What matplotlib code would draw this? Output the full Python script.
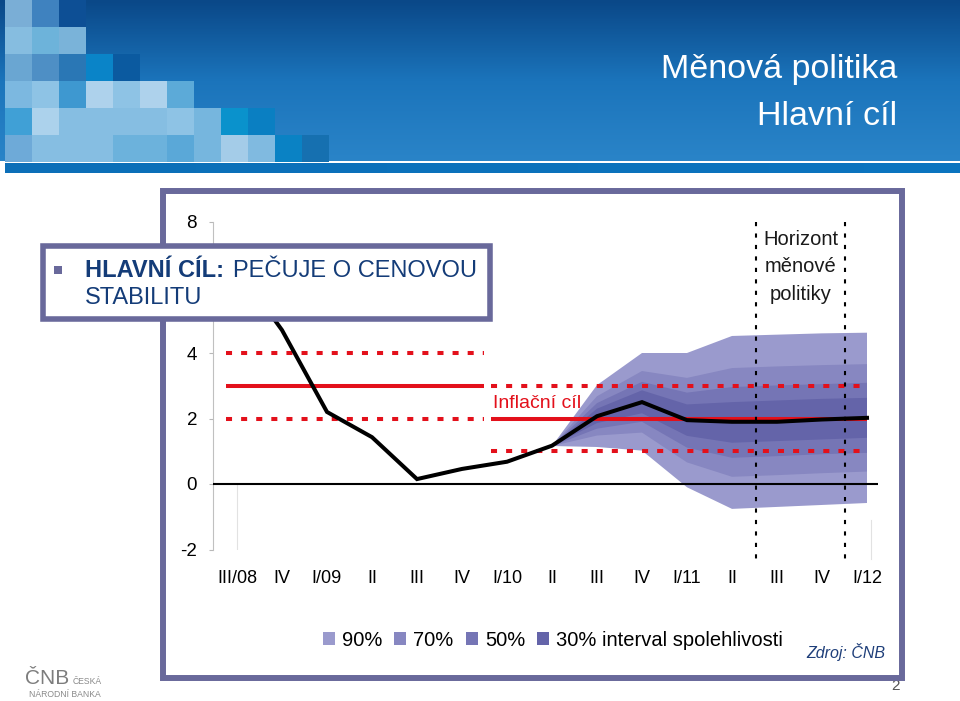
"""Měnová politika - hlavní cíl: inflace a vějíř prognózy ČNB."""
import numpy as np
import matplotlib
matplotlib.use("Agg")
import matplotlib.pyplot as plt
from matplotlib.patches import Rectangle
from matplotlib.colors import LinearSegmentedColormap

plt.rcParams["font.family"] = ["Liberation Sans", "DejaVu Sans"]
plt.rcParams["axes.unicode_minus"] = False

# ---------- data ----------
quarters = ["III/08", "IV", "I/09", "II", "III", "IV", "I/10", "II",
            "III", "IV", "I/11", "II", "III", "IV", "I/12"]
inflation = [6.6, 4.7, 2.2, 1.43, 0.15, 0.46, 0.68, 1.17,
             2.07, 2.5, 1.95, 1.9, 1.9, 1.97, 2.02]

# vejir prognozy od II/10 do I/12
fan_start = 7
fan_90_low = [1.16, 1.13, 1.02, -0.10, -0.76, -0.70, -0.64, -0.58]
fan_90_high = [1.16, 3.02, 4.00, 4.00, 4.52, 4.56, 4.60, 4.62]
fan_70_low = [1.16, 1.48, 1.57, 0.66, 0.22, 0.27, 0.33, 0.38]
fan_70_high = [1.16, 2.68, 3.45, 3.24, 3.54, 3.59, 3.63, 3.66]
fan_50_low = [1.16, 1.69, 1.90, 1.11, 0.80, 0.85, 0.91, 0.95]
fan_50_high = [1.16, 2.47, 3.12, 2.79, 2.96, 3.01, 3.05, 3.09]
fan_30_low = [1.16, 1.86, 2.16, 1.47, 1.26, 1.31, 1.36, 1.41]
fan_30_high = [1.16, 2.30, 2.86, 2.43, 2.50, 2.55, 2.60, 2.63]
band_labels = ["90%", "70%", "50%", "30% interval spolehlivosti"]

# inflacni cil: 3 % +-1 do konce 2009, pak 2 % +-1
target_old_span = [-0.25, 5.5]
target_old = 3.0
target_new_span = [5.65, 14.0]
target_new = 2.0
target_band = 1.0

# horizont menove politiky
horizon = [11.53, 13.52]

RED = "#e3101b"
PURPLE = "#69699b"
NAVY = "#143c78"
band_colors = ["#9a9acd", "#8787c1", "#7575b5", "#6464a9"]

fig = plt.figure(figsize=(9.6, 7.01), dpi=100)

# ---------- pozadi: hlavicka ----------
bg = fig.add_axes([0, 0, 1, 1], zorder=0)
bg.set_xlim(0, 960)
bg.set_ylim(701, 0)
bg.axis("off")

grad = LinearSegmentedColormap.from_list("hdr", ["#0a4888", "#1b74bb", "#2a84c8"])
bg.imshow(np.linspace(0, 1, 100).reshape(-1, 1), cmap=grad, aspect="auto",
          extent=(0, 960, 161, 0), zorder=0)
bg.imshow(np.linspace(0, 1, 10).reshape(1, -1),
          cmap=LinearSegmentedColormap.from_list("strip", ["#0c6fb8", "#0a74bf"]),
          aspect="auto", extent=(5, 960, 173, 163), zorder=0)

mosaic = [
    ["#7aaed6", "#3f82bf", "#0d4f95"],
    ["#86bde0", "#6db3da", "#7ab3d9"],
    ["#6aa6d2", "#4e8fc5", "#2a77b5", "#0a84c8", "#0b5aa0"],
    ["#7cb8e0", "#8ec3e5", "#3e98d0", "#aed2ec", "#8ec3e5", "#aed2ec", "#5caad8"],
    ["#40a0d6", "#acd2ec", "#86bee2", "#86bee2", "#86bee2", "#86bee2", "#8ec3e5",
     "#76b6de", "#0a92cc", "#0a7fc2"],
    ["#6eaad8", "#86bee2", "#86bee2", "#86bee2", "#6cb2dc", "#6cb2dc", "#5aa8d8",
     "#76b6de", "#a4cce8", "#80bae0", "#0a82c4", "#1670b0"],
]
for r, row in enumerate(mosaic):
    for c, col in enumerate(row):
        bg.add_patch(Rectangle((5 + 27 * c, 27 * r), 27, 27, facecolor=col,
                               edgecolor="none", zorder=1))

bg.text(897, 78, "Měnová politika", ha="right", va="baseline", color="white", fontsize=24.5)
bg.text(897, 125, "Hlavní cíl", ha="right", va="baseline", color="white", fontsize=24.5)

# logo CNB
bg.text(25, 684, "ČNB", ha="left", va="baseline", color="#7d7d7d", fontsize=15)
bg.text(73, 684, "ČESKÁ", ha="left", va="baseline", color="#8a8a8a", fontsize=6.2)
bg.text(29, 697, "NÁRODNÍ BANKA", ha="left", va="baseline", color="#8a8a8a", fontsize=6.2)
bg.text(896, 686, "2", ha="center", va="center", color="#555555", fontsize=11)

# ---------- graf ----------
ax = fig.add_axes([213 / 960, 1 - 549.5 / 701, 665.25 / 960, 327.5 / 701], zorder=1)
ax.patch.set_alpha(0)
ax.set_xlim(-0.533, 14.25)
ax.set_ylim(-2, 8)

x = np.arange(len(quarters))
xf = x[fan_start:]
bands = [(fan_90_low, fan_90_high), (fan_70_low, fan_70_high),
         (fan_50_low, fan_50_high), (fan_30_low, fan_30_high)]
handles = []
for (lo, hi), col, lab in zip(bands, band_colors, band_labels):
    h = ax.fill_between(xf, lo, hi, facecolor=col, edgecolor="none", zorder=1, label=lab)
    handles.append(h)

dot = dict(color=RED, lw=2.9, dashes=(1.5, 2.25), zorder=3)
ax.plot(target_old_span, [target_old] * 2, color=RED, lw=2.9, solid_capstyle="butt", zorder=3)
ax.plot(target_old_span, [target_old + target_band] * 2, **dot)
ax.plot(target_old_span, [target_old - target_band] * 2, **dot)
ax.plot(target_new_span, [target_new] * 2, color=RED, lw=2.9, solid_capstyle="butt", zorder=3)
ax.plot(target_new_span, [target_new + target_band] * 2, **dot)
ax.plot(target_new_span, [target_new - target_band] * 2, **dot)

ax.axhline(0, color="black", lw=1.5, zorder=3)
ax.plot([0, 0], [0, -2], color="#e2e2e2", lw=0.8, zorder=0)
ax.plot([14.09, 14.09], [-1.1, -2.3], color="#e2e2e2", lw=0.8, zorder=0, clip_on=False)

for hx in horizon:
    ax.plot([hx, hx], [8, -2.35], color="black", lw=1.5, dashes=(2, 3.5),
            zorder=4, clip_on=False)

ax.plot(x, inflation, color="black", lw=2.9, zorder=5, solid_joinstyle="miter")

ax.text(5.69, 2.47, "Inflační cíl", color=RED, fontsize=14,
        ha="left", va="center", zorder=6)
ax.text(12.53, 6.63, "Horizont\nměnové\npolitiky", color="#1a1a1a", fontsize=14.5,
        ha="center", va="center", linespacing=1.58, zorder=6)

# popisek 6 je v originale schovany za boxem
ax.set_xticks(x)
ax.set_xticklabels(quarters)
ax.set_yticks([-2, 0, 2, 4, 8])
ax.tick_params(axis="x", length=0, pad=15, labelsize=13)
ax.tick_params(axis="y", length=3, width=0.8, color="#b8b8b8", pad=8.5, labelsize=13.5)
for s in ["top", "right", "bottom"]:
    ax.spines[s].set_visible(False)
ax.spines["left"].set_color("#c0c0c0")
ax.spines["left"].set_linewidth(0.8)

# ---------- ram, box, legenda ----------
ov = fig.add_axes([0, 0, 1, 1], zorder=2)
ov.patch.set_alpha(0)
ov.set_xlim(0, 960)
ov.set_ylim(701, 0)
ov.axis("off")

ov.add_patch(Rectangle((163, 191), 739, 487, facecolor="none", edgecolor=PURPLE, lw=4.3))
ov.add_patch(Rectangle((42.5, 245.5), 447, 73, facecolor="white", edgecolor=PURPLE, lw=4))
ov.add_patch(Rectangle((54, 266), 8, 8, facecolor=PURPLE, edgecolor="none"))
ov.text(85, 277, "HLAVNÍ CÍL:", color=NAVY, fontsize=17, fontweight="bold", va="baseline")
ov.text(233, 277, "PEČUJE O CENOVOU", color=NAVY, fontsize=17, va="baseline")
ov.text(85, 304, "STABILITU", color=NAVY, fontsize=17, va="baseline")

ov.text(885, 652, "Zdroj: ČNB", ha="right", va="center", color="#1f3f7a", fontsize=11.5,
        style="italic")

fig.legend(handles=handles, labels=band_labels, ncol=4, loc="center",
           bbox_to_anchor=(553 / 960, 1 - 640 / 701), frameon=False,
           prop={"size": 14.5}, handlelength=0.6, handleheight=0.6,
           handletextpad=0.35, columnspacing=0.6, borderpad=0)

fig.savefig("out.png", dpi=100, facecolor="white")
